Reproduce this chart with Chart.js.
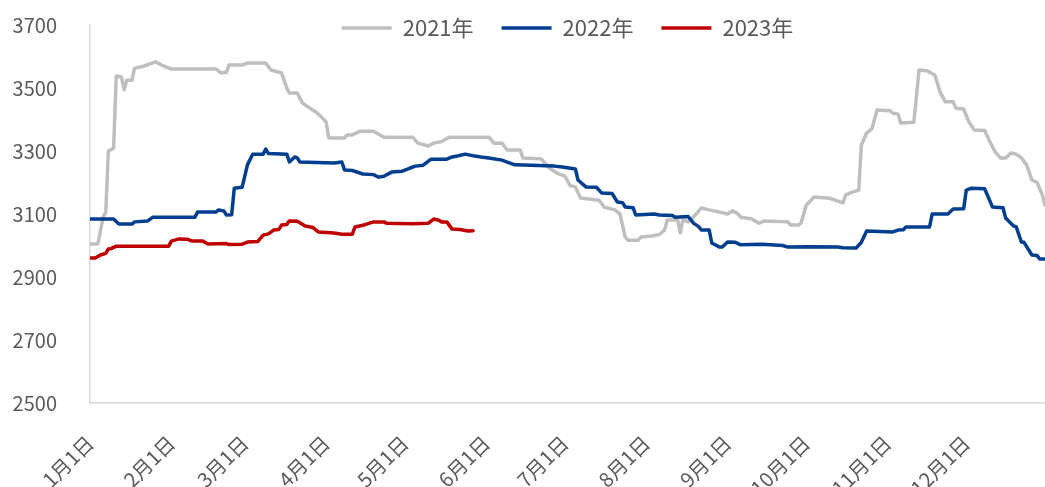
<!DOCTYPE html>
<html>
<head>
<meta charset="utf-8">
<script src="https://cdn.jsdelivr.net/npm/chart.js@4"></script>
<style>
  html, body { margin: 0; padding: 0; background: #ffffff; }
  #wrap { width: 1045px; height: 487px; position: relative; }
</style>
</head>
<body>
<div id="wrap"><canvas id="c"></canvas></div>
<script>
// ---- data (day of year, price) ----
const seriesNames = ['2021年', '2022年', '2023年'];
const monthStartDays = [0, 31, 59, 90, 120, 151, 181, 212, 243, 273, 304, 334];
const monthLabels = ['1月1日', '2月1日', '3月1日', '4月1日', '5月1日', '6月1日', '7月1日', '8月1日', '9月1日', '10月1日', '11月1日', '12月1日'];
const yTicks = [2500, 2700, 2900, 3100, 3300, 3500, 3700];

const days2021 = [0,3,5,6,7,9,10,12,13,14,16,17,20,25,28,31,48,50,52,53,58,60,67,69,73,75,76,79,81,86,88,90,91,97,98,100,103,108,112,123,125,129,131,134,137,152,154,157,159,164,165,172,175,178,181,183,185,187,194,196,200,202,204,205,209,210,214,217,219,220,224,225,226,228,230,233,236,240,243,245,247,248,252,255,257,266,267,270,271,273,276,282,284,287,288,290,293,294,296,298,300,305,306,308,309,314,316,319,322,324,326,329,330,333,335,337,341,343,345,347,349,351,353,355,357,359,361,363,364];
const vals2021 = [3005,3005,3090,3106,3300,3309,3538,3535,3494,3525,3525,3563,3568,3583,3570,3560,3560,3548,3550,3573,3573,3579,3579,3557,3548,3500,3484,3484,3452,3424,3410,3392,3341,3341,3351,3351,3363,3363,3344,3344,3325,3316,3325,3330,3344,3344,3325,3325,3303,3303,3278,3275,3246,3230,3220,3190,3186,3151,3144,3122,3113,3100,3027,3017,3017,3027,3030,3035,3049,3081,3081,3040,3081,3075,3090,3119,3113,3106,3100,3110,3100,3090,3085,3071,3078,3075,3065,3065,3071,3128,3154,3150,3144,3135,3160,3168,3176,3319,3357,3370,3430,3428,3420,3417,3389,3391,3557,3555,3541,3487,3456,3456,3436,3433,3392,3367,3365,3329,3297,3278,3278,3294,3290,3278,3256,3208,3200,3160,3128];

const days2022 = [0,9,11,16,17,22,24,40,41,48,49,51,52,54,55,58,60,62,66,67,68,75,76,78,79,80,93,96,97,100,104,108,110,112,115,119,122,124,127,130,136,138,140,143,146,149,152,157,159,162,177,180,185,186,189,193,195,199,201,203,204,207,208,215,217,222,223,228,230,232,233,236,237,240,241,243,246,248,256,264,266,274,285,287,292,294,296,306,308,310,311,320,321,327,329,333,334,336,341,344,348,349,352,353,355,356,359,361,362,364];
const vals2022 = [3084,3084,3068,3068,3075,3078,3090,3090,3106,3106,3113,3110,3097,3098,3182,3185,3256,3290,3290,3306,3292,3290,3265,3281,3278,3265,3262,3265,3240,3238,3227,3225,3217,3220,3233,3236,3246,3252,3255,3274,3274,3281,3284,3290,3285,3281,3278,3271,3265,3256,3252,3249,3243,3208,3186,3185,3167,3165,3138,3136,3122,3120,3097,3100,3097,3095,3090,3092,3071,3060,3049,3049,3008,2995,2995,3011,3010,3002,3004,3000,2995,2996,2995,2993,2992,3010,3046,3043,3049,3050,3059,3059,3100,3100,3116,3117,3176,3182,3180,3122,3120,3087,3062,3060,3011,3010,2970,2968,2957,2957];

const days2023 = [0,2,4,6,7,8,10,30,31,34,37,39,43,45,52,53,58,60,64,66,68,70,72,73,75,76,79,82,85,87,93,96,100,101,104,108,112,113,123,129,131,133,134,136,138,141,144,146];
const vals2023 = [2960,2960,2970,2975,2989,2990,2998,2998,3014,3021,3020,3014,3014,3005,3006,3003,3004,3011,3013,3033,3037,3049,3051,3065,3067,3078,3077,3062,3057,3043,3040,3036,3036,3059,3064,3075,3075,3071,3069,3071,3084,3080,3075,3075,3052,3051,3046,3047];

const seriesColors = ['#BFBFBF', '#003E8F', '#C00000'];

function toPoints(days, vals) {
  return days.map((d, i) => ({ x: d, y: vals[i] }));
}

const FONT = '"Noto Sans CJK SC", "Noto Sans", sans-serif';
const TEXT_COLOR = '#595959';
const AXIS_COLOR = '#D9D9D9';

const legendPlace = {
  id: 'legendPlace',
  afterLayout(chart) {
    const lg = chart.legend;
    if (!lg) return;
    lg.top = -11;
    lg.bottom = 70;
  }
};

const allDays = [days2021, days2022, days2023];
const allVals = [vals2021, vals2022, vals2023];
const orders = [3, 2, 1];

new Chart(document.getElementById('c'), {
  type: 'line',
  data: {
    datasets: seriesNames.map((name, i) => ({
      label: name,
      data: toPoints(allDays[i], allVals[i]),
      borderColor: seriesColors[i],
      backgroundColor: seriesColors[i],
      borderWidth: 3.5,
      pointRadius: 0,
      pointHoverRadius: 0,
      tension: 0,
      fill: false,
      borderJoinStyle: 'round',
      borderCapStyle: 'round',
      order: orders[i]
    }))
  },
  options: {
    responsive: true,
    maintainAspectRatio: false,
    animation: false,
    events: [],
    layout: { padding: { top: 0, left: 0, right: 0, bottom: 0 } },
    plugins: {
      tooltip: { enabled: false },
      legend: {
        display: true,
        position: 'top',
        fullSize: false,
        maxHeight: 1,
        labels: {
          usePointStyle: true,
          pointStyle: 'line',
          pointStyleWidth: 50,
          padding: 28,
          color: TEXT_COLOR,
          font: { family: FONT, size: 22 },
          sort: (a, b) => a.datasetIndex - b.datasetIndex
        }
      }
    },
    scales: {
      x: {
        type: 'linear',
        min: 0,
        max: 364,
        grid: { display: false, drawTicks: false },
        border: { display: true, color: AXIS_COLOR, width: 1.5 },
        afterBuildTicks: (scale) => { scale.ticks = monthStartDays.map(v => ({ value: v })); },
        afterFit: (scale) => { scale.height = 84; },
        ticks: {
          autoSkip: false,
          minRotation: 45,
          maxRotation: 45,
          padding: 28,
          color: TEXT_COLOR,
          font: { family: FONT, size: 20 },
          callback: (value) => {
            const idx = monthStartDays.indexOf(value);
            return idx >= 0 ? monthLabels[idx] : '';
          }
        }
      },
      y: {
        type: 'linear',
        min: 2500,
        max: 3700,
        grid: { display: false, drawTicks: false },
        border: { display: true, color: AXIS_COLOR, width: 1.5 },
        afterBuildTicks: (scale) => { scale.ticks = yTicks.map(v => ({ value: v })); },
        afterFit: (scale) => {
          scale.width = 90;
          scale.paddingTop = 25;
          scale.paddingBottom = 0;
        },
        ticks: {
          padding: 33,
          color: TEXT_COLOR,
          font: { family: FONT, size: 20 },
          callback: (value) => String(value)
        }
      }
    }
  },
  plugins: [legendPlace]
});
</script>
</body>
</html>
